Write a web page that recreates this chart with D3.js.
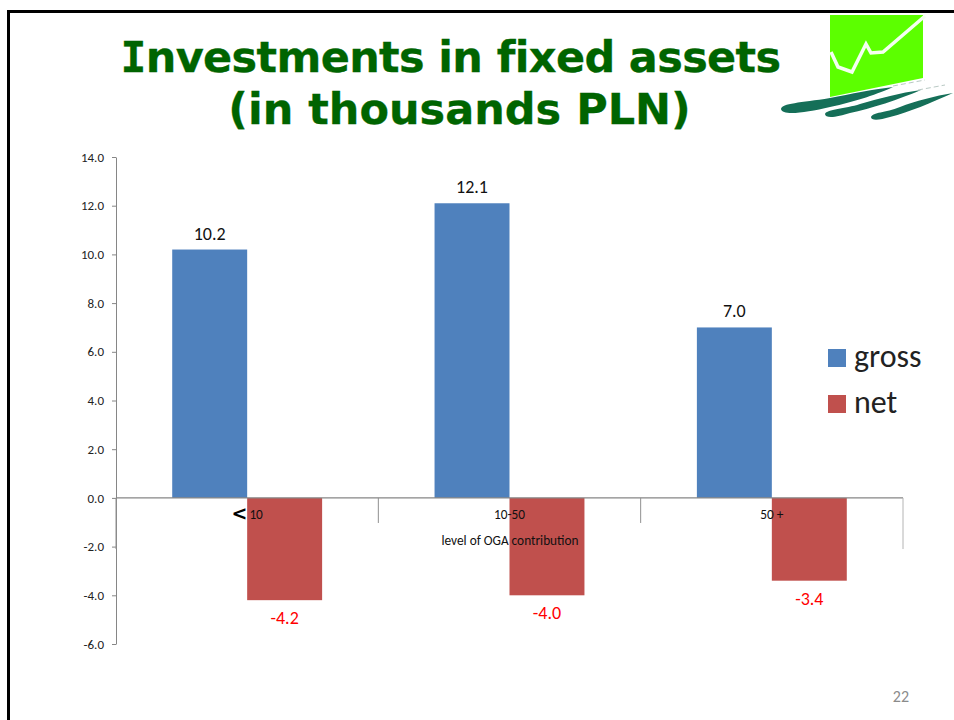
<!DOCTYPE html>
<html><head><meta charset="utf-8">
<script src="https://cdn.jsdelivr.net/npm/d3@7/dist/d3.min.js"></script>
<style>html,body{margin:0;padding:0;background:#fff}svg{display:block}</style>
</head><body><svg id="c" width="954" height="720"></svg>
<script>
const categories = ["< 10", "10-50", "50 +"];
const seriesNames = ["gross", "net"];
const gross = [10.2, 12.1, 7.0];
const net = [-4.2, -4.0, -3.4];
const yTicks = [14, 12, 10, 8, 6, 4, 2, 0, -2, -4, -6];
const titleLines = ["Investments in fixed assets", "(in thousands PLN)"];
const axisTitle = "level of OGA contribution";
const pageNumber = "22";

const svg = d3.select("#c");
const sans = "Carlito, Calibri, 'Open Sans', 'Noto Sans', sans-serif";
const colors = d3.scaleOrdinal(seriesNames, ["#4f81bd", "#c0504d"]);

const y = d3.scaleLinear().domain([-6, 14]).range([644, 157]);
const x = d3.scaleBand().domain(categories).range([116, 903]);
const xi = d3.scaleBand().domain(seriesNames).range([0, x.bandwidth()]).paddingInner(0).paddingOuter(0.75);

// slide frame
svg.append("path").attr("d", "M8.5,720V11.5H954").attr("fill", "none").attr("stroke", "#000").attr("stroke-width", 3);

// title
const titleX = [450.5, 459.5], titleY = [71.5, 124];
const title = svg.append("g").selectAll("text").data(titleLines).join("text")
  .attr("x", (d, i) => titleX[i]).attr("y", (d, i) => titleY[i])
  .attr("text-anchor", "middle")
  .attr("font-family", "'DejaVu Sans', Verdana, sans-serif")
  .attr("font-weight", "bold").attr("font-size", 43)
  .attr("letter-spacing", (d, i) => i === 0 ? -0.65 : 0)
  .style("font-variant-ligatures", "none")
  .attr("fill", "#006400").attr("stroke", "#006400").attr("stroke-width", 0.3);
title.each(function (d) {
  const t = d3.select(this);
  if (d[0] === "I") {
    t.append("tspan").attr("font-family", "'DejaVu Sans Mono', monospace").text("I");
    t.append("tspan").text(d.slice(1));
  } else t.text(d);
});

// logo
const logo = svg.append("g");
logo.append("path").attr("d", "M830,15H923V78L830,97Z").attr("fill", "#5cff00");
logo.append("path").attr("d", "M831,52L838,67L852,72L866,44L871,53L883,52L925,16")
  .attr("fill", "none").attr("stroke", "#f4fff0").attr("stroke-width", 3.5);
const ink = "#156f58";
logo.append("path").attr("d", "M781,109C782,103 800,103 830,98C850,94 875,89 893,87C880,93 855,102 830,107C805,113 782,116 781,109Z").attr("fill", ink);
logo.append("path").attr("d", "M825,114C827,109 845,109 860,104C880,98 900,93 921,90C900,99 870,109 850,113C838,117 825,119 825,114Z").attr("fill", ink);
logo.append("path").attr("d", "M871,117C873,112 885,113 900,107C915,101 935,96 953,93C930,103 910,112 890,117C880,120 871,121 871,117Z").attr("fill", ink);
logo.append("path").attr("d", "M893,86L925,80M918,90L945,85").attr("stroke", "#b9c9c4").attr("stroke-width", 1).attr("stroke-dasharray", "5 3").attr("fill", "none");

// y axis
const yAxis = svg.append("g").attr("transform", "translate(116,0)")
  .call(d3.axisLeft(y).tickValues(yTicks).tickSize(4).tickSizeOuter(0).tickFormat(d => d.toFixed(1)));
yAxis.select(".domain").attr("stroke", "#868686");
yAxis.selectAll("line").attr("stroke", "#868686");
yAxis.selectAll("text").attr("font-family", sans).attr("font-size", 13).attr("fill", "#222").attr("x", -12);

// bars
const groups = [gross, net];
seriesNames.forEach((s, si) => {
  svg.append("g").selectAll("rect").data(groups[si]).join("rect")
    .attr("x", (d, i) => x(categories[i]) + xi(s))
    .attr("width", xi.bandwidth())
    .attr("y", d => y(Math.max(0, d)))
    .attr("height", d => Math.abs(y(d) - y(0)))
    .attr("fill", colors(s));
  svg.append("g").selectAll("text").data(groups[si]).join("text")
    .attr("x", (d, i) => x(categories[i]) + xi(s) + xi.bandwidth() / 2)
    .attr("y", d => d > 0 ? y(d) - 10 : y(d) + 24)
    .attr("text-anchor", "middle")
    .attr("font-family", sans).attr("font-size", 18)
    .attr("fill", d => d > 0 ? "#111" : "#ff0000")
    .text(d => d.toFixed(1));
});

// category axis (at zero) with long dividers
const xEdges = [...categories.map(c => x(c)), 903];
svg.append("line").attr("x1", 116).attr("x2", 903).attr("y1", y(0)).attr("y2", y(0)).attr("stroke", "#868686").attr("stroke-width", 1.2);
svg.append("g").selectAll("line").data(xEdges).join("line")
  .attr("x1", d => d).attr("x2", d => d)
  .attr("y1", y(0))
  .attr("y2", (d, i) => (i === 0 || i === 3) ? y(-2.1) : y(-1.03))
  .attr("stroke", (d, i) => i === 3 ? "#b4b4b4" : "#909090");
const catLabels = svg.append("g").selectAll("text").data(categories).join("text")
  .attr("x", d => x(d) + x.bandwidth() / 2).attr("y", 519)
  .attr("text-anchor", "middle").attr("font-family", sans).attr("font-size", 13.3).attr("fill", "#111");
catLabels.each(function (d) {
  const t = d3.select(this);
  if (d[0] === "<") {
    t.append("tspan").attr("font-family", "'DejaVu Sans', sans-serif").attr("font-weight", "bold").attr("font-size", 19).attr("fill", "#000").attr("dy", 1).text("<");
    t.append("tspan").attr("dy", -1).attr("dx", 2).text(d.slice(1).trim());
  } else t.text(d);
});
svg.append("text").attr("x", 510).attr("y", 545).attr("text-anchor", "middle")
  .attr("font-family", sans).attr("font-size", 13.3).attr("fill", "#111").text(axisTitle);

// legend
const legend = svg.append("g").selectAll("g").data(seriesNames).join("g")
  .attr("transform", (d, i) => `translate(828,${349 + i * 46})`);
legend.append("rect").attr("width", 18).attr("height", 18).attr("fill", d => colors(d));
legend.append("text").attr("x", 26).attr("y", 18).attr("font-family", sans).attr("font-size", 32).attr("fill", "#222").text(d => d);

// page number
svg.append("text").attr("x", 909).attr("y", 702).attr("text-anchor", "end")
  .attr("font-family", sans).attr("font-size", 16).attr("fill", "#8b8b8b").text(pageNumber);
</script></body></html>
